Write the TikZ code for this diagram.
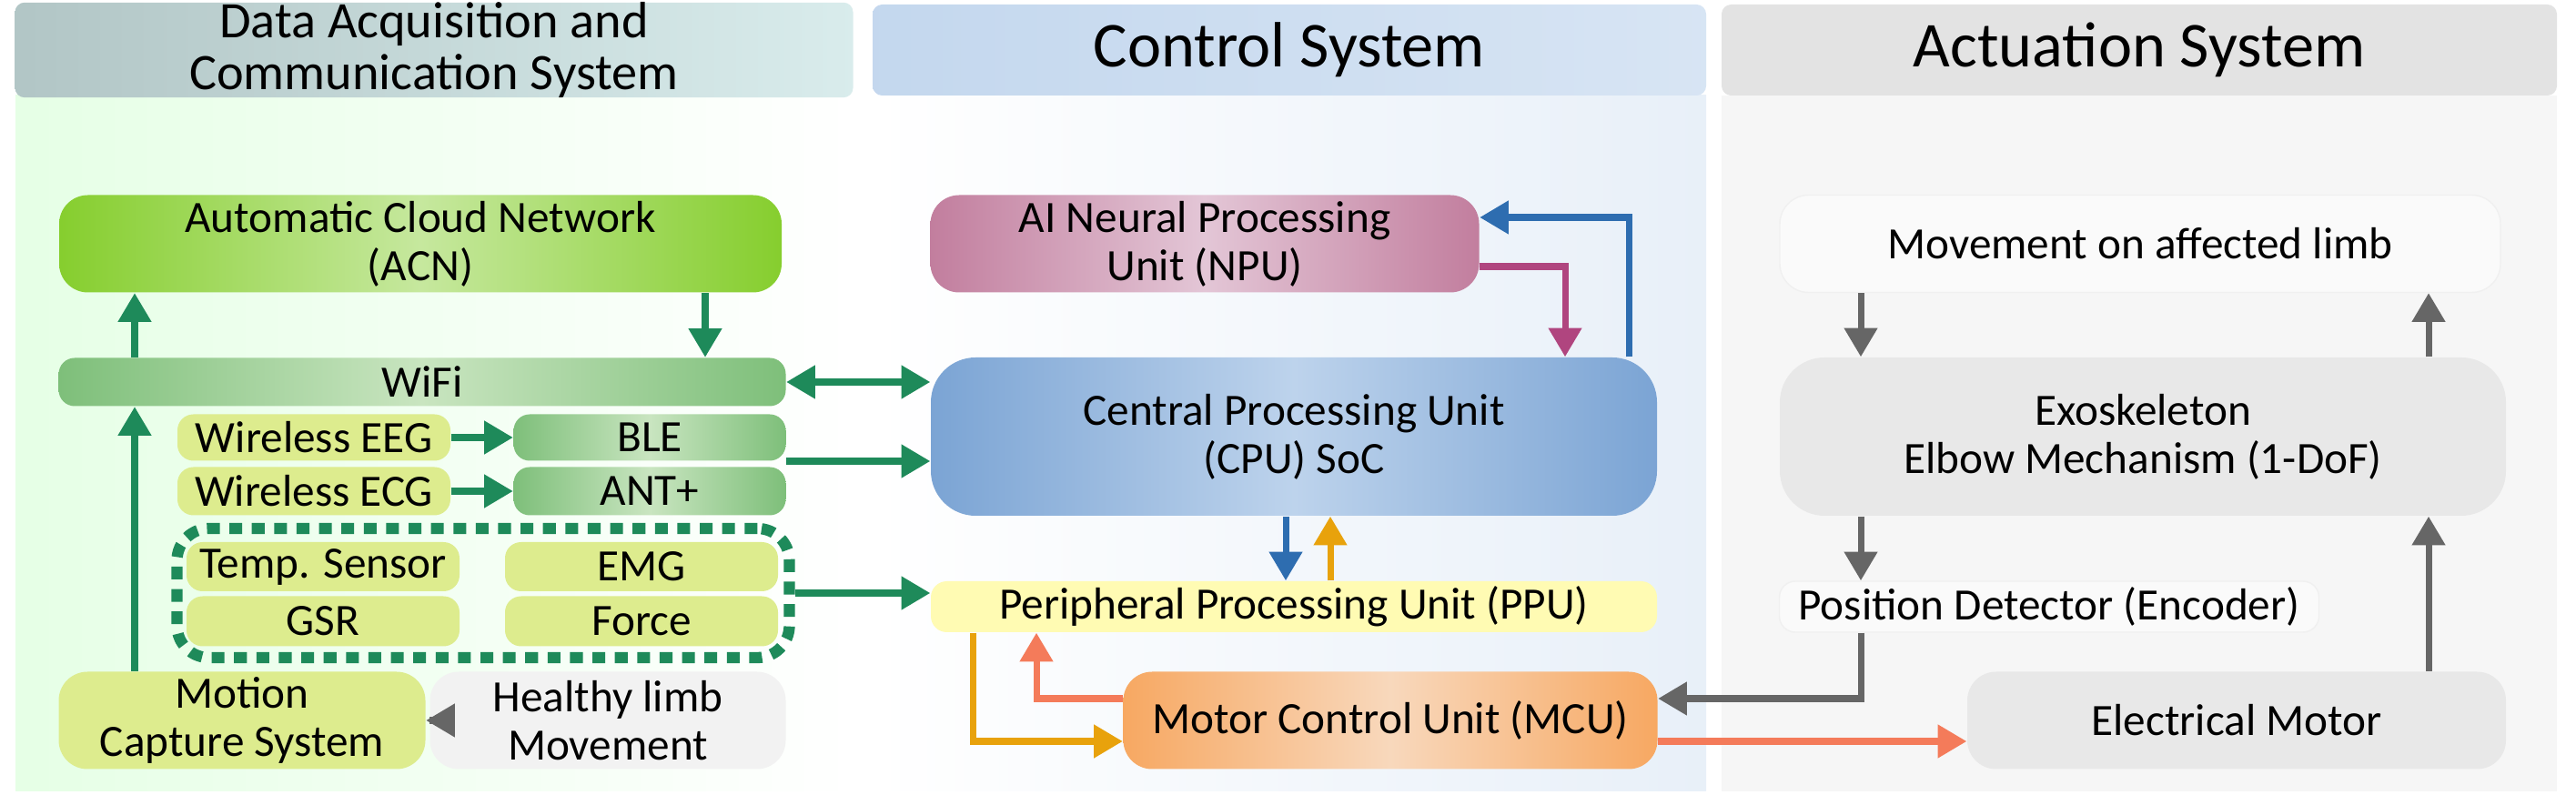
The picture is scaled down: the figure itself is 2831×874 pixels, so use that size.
\documentclass[tikz,border=0pt]{standalone}
\usepackage{fontspec}
\setmainfont{Carlito}
\usetikzlibrary{arrows.meta,calc}
\definecolor{gA}{HTML}{1E8A5A}
\definecolor{bA}{HTML}{2E6DB0}
\definecolor{mA}{HTML}{B0457F}
\definecolor{oA}{HTML}{E8A20C}
\definecolor{sA}{HTML}{F47B5A}
\definecolor{kA}{HTML}{666666}
\definecolor{sen}{HTML}{DDEC8E}
\definecolor{grD}{HTML}{7EBF7A}
\definecolor{grL}{HTML}{C9E5C0}
\definecolor{acnD}{HTML}{86CE2E}
\definecolor{acnL}{HTML}{C6E89E}
\definecolor{npuD}{HTML}{C27E9E}
\definecolor{npuL}{HTML}{E3C6D6}
\definecolor{cpuD}{HTML}{7BA4D4}
\definecolor{cpuL}{HTML}{BDD3EC}
\definecolor{mcuD}{HTML}{F7A862}
\definecolor{mcuL}{HTML}{F8D8BC}
\tikzset{
 sz/.style 2 args={minimum width=#1*0.01cm,minimum height=#2*0.01cm},
 box/.style={rounded corners=9pt,inner sep=0pt,align=center,font=\fontsize{14}{15}\selectfont},
 hdr/.style={rounded corners=3pt,inner sep=0pt,align=center,font=\fontsize{20}{13}\selectfont},
 arr/.style={line width=2pt,-{Triangle[length=9pt,width=10pt]}},
 darr/.style={line width=2pt,{Triangle[length=9pt,width=10pt]}-{Triangle[length=9pt,width=10pt]}},
}
\begin{document}
\begin{tikzpicture}[x=0.01cm,y=-0.01cm]
\useasboundingbox (0,0) rectangle (2831,874);
\fill[white] (0,0) rectangle (2831,874);
% panels
\shade[left color=green!10!white,right color=white] (17,105) rectangle (938,870);
\shade[left color=white,right color=cpuL!35!white] (959,105) rectangle (1875,870);
\fill[gray!7] (1892,105) rectangle (2810,870);
\node[hdr,shade,left color=teal!35!gray!45!white,right color=teal!15!white,sz={921}{100},font=\fontsize{16}{16}\selectfont] (h1) at (477,55) {Data Acquisition and\\Communication System};
\node[hdr,shade,left color=cpuL!90!white,right color=cpuL!60!white,sz={916}{100}] (h2) at (1417,55) {Control System};
\node[hdr,fill=gray!22,sz={918}{100}] (h3) at (2351,55) {Actuation System};
% left nodes
\node[box,shade,left color=acnD,right color=acnD,middle color=acnL,sz={794}{107}] (acn) at (462,268) {Automatic Cloud Network\\(ACN)};
\node[box,rounded corners=5pt,shade,left color=grD,right color=grD,middle color=grL,sz={799}{53}] (wifi) at (464,420) {WiFi};
\node[box,rounded corners=5pt,fill=sen,sz={300}{51}] (eeg) at (345,481) {Wireless EEG};
\node[box,rounded corners=5pt,shade,left color=grD,right color=grD,middle color=grL,sz={299}{51}] (ble) at (714,481) {BLE};
\node[box,rounded corners=5pt,fill=sen,sz={300}{53}] (ecg) at (345,540) {Wireless ECG};
\node[box,rounded corners=5pt,shade,left color=grD,right color=grD,middle color=grL,sz={299}{53}] (ant) at (714,540) {ANT+};
\node[draw=gA,line width=3.5pt,dash pattern=on 4pt off 3pt,rounded corners=10pt,sz={673}{142},inner sep=0pt] (grp) at (531,652) {};
\node[box,rounded corners=5pt,fill=sen,sz={300}{54}] (tmp) at (355,623) {Temp. Sensor};
\node[box,rounded corners=5pt,fill=sen,sz={300}{54}] (emg) at (705,623) {EMG};
\node[box,rounded corners=5pt,fill=sen,sz={300}{55}] (gsr) at (355,683) {GSR};
\node[box,rounded corners=5pt,fill=sen,sz={300}{55}] (frc) at (705,683) {Force};
\node[box,fill=sen,sz={403}{107}] (mot) at (266,792) {Motion\\Capture System};
\node[box,fill=gray!10,sz={391}{107}] (hl) at (668,792) {Healthy limb\\Movement};
% middle nodes
\node[box,shade,left color=npuD,right color=npuD,middle color=npuL,sz={603}{107}] (npu) at (1324,268) {AI Neural Processing\\Unit (NPU)};
\node[box,rounded corners=14pt,shade,left color=cpuD,right color=cpuD,middle color=cpuL,sz={798}{174}] (cpu) at (1422,480) {Central Processing Unit\\(CPU) SoC};
\node[box,rounded corners=5pt,fill=yellow!30!white,sz={798}{56}] (ppu) at (1422,667) {Peripheral Processing Unit (PPU)};
\node[box,shade,left color=mcuD,right color=mcuD,middle color=mcuL,sz={587}{107}] (mcu) at (1528,792) {Motor Control Unit (MCU)};
% right nodes
\node[box,fill=gray!4,draw=gray!12,sz={792}{107}] (mov) at (2352,268) {Movement on affected limb};
\node[box,rounded corners=14pt,fill=gray!18,sz={798}{174}] (exo) at (2355,480) {Exoskeleton\\Elbow Mechanism (1-DoF)};
\node[box,rounded corners=5pt,fill=gray!4,draw=gray!12,sz={593}{56}] (enc) at (2252,667) {Position Detector (Encoder)};
\node[box,fill=gray!18,sz={592}{107}] (emt) at (2458,792) {Electrical Motor};
% coordinates
\coordinate (xl) at (148,0);
\coordinate (xa) at (775,0);
\coordinate (yb) at (0,507);
\coordinate (xcb) at (1413,0);
\coordinate (xco) at (1462,0);
\coordinate (xbl) at (1790,0);
\coordinate (ybl) at (0,239);
\coordinate (ymg) at (0,293);
\coordinate (xmg) at (1720,0);
\coordinate (xor) at (1069,0);
\coordinate (xsa) at (1139,0);
\coordinate (y768) at (0,768);
\coordinate (y815) at (0,815);
\coordinate (xr1) at (2045,0);
\coordinate (xr2) at (2669,0);
% left connectors
\draw[arr,gA] (mot.north -| xl) -- (wifi.south -| xl);
\draw[arr,gA] (wifi.north -| xl) -- (acn.south -| xl);
\draw[arr,gA] (acn.south -| xa) -- (wifi.north -| xa);
\draw[arr,gA] (eeg.east) -- (ble.west);
\draw[arr,gA] (ecg.east) -- (ant.west);
\draw[arr,kA] (hl.west) -- (mot.east);
\draw[darr,gA] (wifi.east) -- (wifi.east -| cpu.west);
\draw[arr,gA] (ble.east |- yb) -- (cpu.west |- yb);
\draw[arr,gA] (grp.east) -- (grp.east -| ppu.west);
% middle connectors
\draw[arr,bA] (cpu.north -| xbl) |- (npu.east |- ybl);
\draw[arr,mA] (npu.east |- ymg) -| (cpu.north -| xmg);
\draw[arr,bA] (cpu.south -| xcb) -- (ppu.north -| xcb);
\draw[arr,oA] (ppu.north -| xco) -- (cpu.south -| xco);
\draw[arr,oA] (ppu.south -| xor) |- (mcu.west |- y815);
\draw[arr,sA] (mcu.west |- y768) -| (ppu.south -| xsa);
\draw[arr,kA] (enc.south -| xr1) |- (mcu.east |- y768);
\draw[arr,sA] (mcu.east |- y815) -- (emt.west |- y815);
% right connectors
\draw[arr,kA] (mov.south -| xr1) -- (exo.north -| xr1);
\draw[arr,kA] (exo.south -| xr1) -- (enc.north -| xr1);
\draw[arr,kA] (emt.north -| xr2) -- (exo.south -| xr2);
\draw[arr,kA] (exo.north -| xr2) -- (mov.south -| xr2);
\end{tikzpicture}
\end{document}
